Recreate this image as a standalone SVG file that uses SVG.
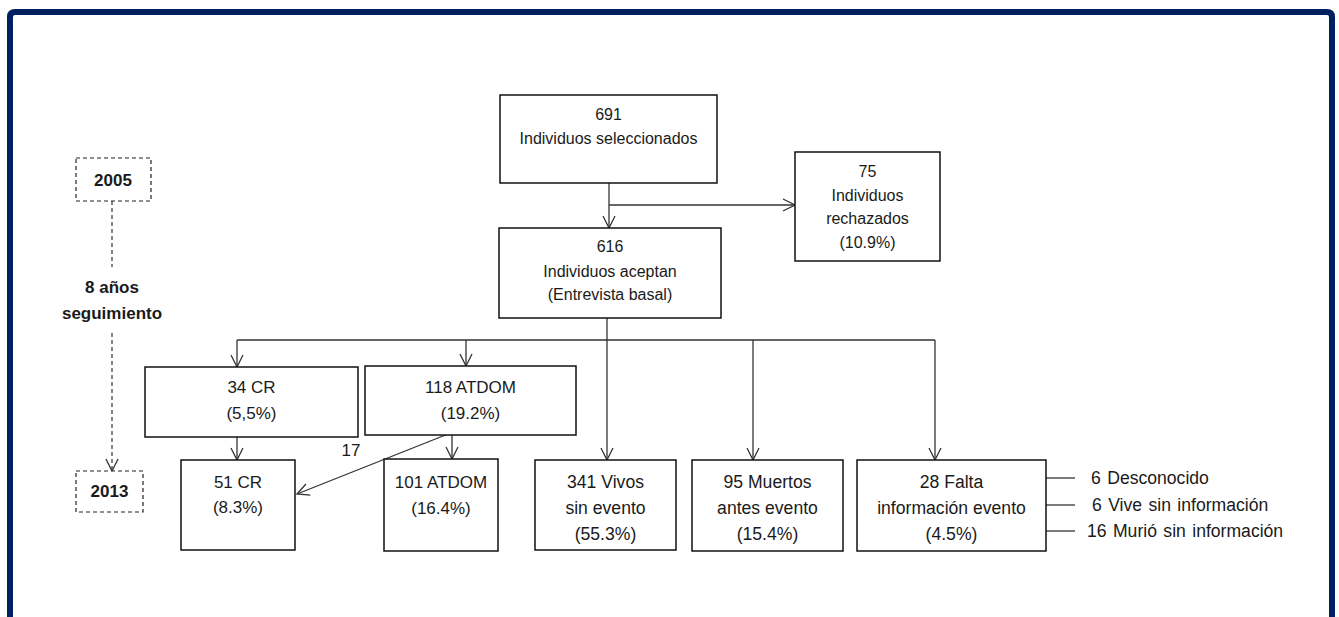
<svg xmlns="http://www.w3.org/2000/svg" width="1339" height="617" viewBox="0 0 1339 617">
<defs>
<style>
.box{fill:#fff;stroke:#111;stroke-width:1.5}
.dbox{fill:#fff;stroke:#222;stroke-width:1.2;stroke-dasharray:4 3}
.t{font-family:"Liberation Sans",Arial,sans-serif;font-size:16px;fill:#1a1a1a;text-anchor:middle}
.m{font-family:"Liberation Sans",Arial,sans-serif;font-size:17px;fill:#1a1a1a;text-anchor:middle}
.l{font-family:"Liberation Sans",Arial,sans-serif;font-size:17.6px;fill:#1a1a1a;text-anchor:middle}
.b{font-family:"Liberation Sans",Arial,sans-serif;font-size:17px;font-weight:bold;fill:#1a1a1a;text-anchor:middle}
.s{font-family:"Liberation Sans",Arial,sans-serif;font-size:17.6px;fill:#1a1a1a;word-spacing:1.5px}
.c{fill:none;stroke:#333;stroke-width:1.3}
.d{fill:none;stroke:#333;stroke-width:1.2;stroke-dasharray:4 3}
</style>
<marker id="arr" viewBox="0 0 14 14" refX="13" refY="7" markerWidth="14" markerHeight="14" markerUnits="userSpaceOnUse" orient="auto">
<path d="M1,1 L13,7 L1,13" fill="none" stroke="#333" stroke-width="1.3"/>
</marker>
</defs>
<rect width="1339" height="617" fill="#fff"/>
<path d="M10,617 V17 Q10,12 15,12 H1327 Q1332,12 1332,17 V617" fill="none" stroke="#002060" stroke-width="6"/>

<g id="connectors">
<line class="c" x1="609" y1="183" x2="609" y2="228" marker-end="url(#arr)"/>
<line class="c" x1="609" y1="205" x2="795" y2="205" marker-end="url(#arr)"/>
<line class="c" x1="607" y1="318" x2="607" y2="460" marker-end="url(#arr)"/>
<line class="c" x1="237" y1="340" x2="935" y2="340"/>
<line class="c" x1="237" y1="340" x2="237" y2="367" marker-end="url(#arr)"/>
<line class="c" x1="466" y1="340" x2="466" y2="366" marker-end="url(#arr)"/>
<line class="c" x1="753" y1="340" x2="753" y2="460" marker-end="url(#arr)"/>
<line class="c" x1="935" y1="340" x2="935" y2="460" marker-end="url(#arr)"/>
<line class="c" x1="237" y1="437" x2="237" y2="460" marker-end="url(#arr)"/>
<line class="c" x1="452" y1="435" x2="452" y2="459" marker-end="url(#arr)"/>
<line class="c" x1="448" y1="434" x2="297" y2="494" marker-end="url(#arr)"/>
<line class="c" x1="1046" y1="478" x2="1075" y2="478"/>
<line class="c" x1="1046" y1="505" x2="1075" y2="505"/>
<line class="c" x1="1046" y1="531" x2="1075" y2="531"/>
<line class="d" x1="112" y1="201" x2="112" y2="267"/>
<line class="d" x1="112" y1="333" x2="112" y2="471" marker-end="url(#arr)"/>
</g>

<g id="y2005">
<rect class="dbox" x="76" y="158" width="75" height="43"/>
<text class="b" x="113" y="186">2005</text>
</g>
<g id="seguimiento">
<text class="b" x="112" y="293">8 años</text>
<text class="b" x="112" y="319">seguimiento</text>
</g>
<g id="y2013">
<rect class="dbox" x="76" y="471" width="67" height="41"/>
<text class="b" x="109.5" y="497">2013</text>
</g>

<g id="n691">
<rect class="box" x="500" y="95" width="217" height="88"/>
<text class="t" x="608.5" y="120">691</text>
<text class="t" x="608.5" y="144">Individuos seleccionados</text>
</g>
<g id="n75">
<rect class="box" x="795" y="152" width="145" height="109"/>
<text class="t" x="867.5" y="177">75</text>
<text class="t" x="867.5" y="201">Individuos</text>
<text class="t" x="867.5" y="224">rechazados</text>
<text class="t" x="867.5" y="248">(10.9%)</text>
</g>
<g id="n616">
<rect class="box" x="499" y="228" width="222" height="90"/>
<text class="t" x="610" y="252">616</text>
<text class="t" x="610" y="277">Individuos aceptan</text>
<text class="t" x="610" y="300">(Entrevista basal)</text>
</g>
<g id="n34cr">
<rect class="box" x="145" y="367" width="213" height="70"/>
<text class="m" x="251.5" y="393">34 CR</text>
<text class="m" x="251.5" y="419">(5,5%)</text>
</g>
<g id="n118">
<rect class="box" x="365" y="366" width="211" height="69"/>
<text class="m" x="470.5" y="393">118 ATDOM</text>
<text class="m" x="470.5" y="419">(19.2%)</text>
</g>
<g id="l17">
<text class="m" x="351" y="456">17</text>
</g>
<g id="n51cr">
<rect class="box" x="181" y="460" width="114" height="90"/>
<text class="m" x="238" y="488">51 CR</text>
<text class="m" x="238" y="513">(8.3%)</text>
</g>
<g id="n101">
<rect class="box" x="384" y="459" width="114" height="92"/>
<text class="m" x="441" y="488">101 ATDOM</text>
<text class="m" x="441" y="514">(16.4%)</text>
</g>
<g id="n341">
<rect class="box" x="535" y="460" width="141" height="90"/>
<text class="l" x="605.5" y="488">341 Vivos</text>
<text class="l" x="605.5" y="514">sin evento</text>
<text class="l" x="605.5" y="540">(55.3%)</text>
</g>
<g id="n95">
<rect class="box" x="692" y="460" width="151" height="91"/>
<text class="l" x="767.5" y="488">95 Muertos</text>
<text class="l" x="767.5" y="514">antes evento</text>
<text class="l" x="767.5" y="540">(15.4%)</text>
</g>
<g id="n28">
<rect class="box" x="857" y="460" width="189" height="91"/>
<text class="l" x="951.5" y="488">28 Falta</text>
<text class="l" x="951.5" y="514">información evento</text>
<text class="l" x="951.5" y="540">(4.5%)</text>
</g>
<g id="sub">
<text class="s" x="1091" y="484">6 Desconocido</text>
<text class="s" x="1092" y="511">6 Vive sin información</text>
<text class="s" x="1087" y="537">16 Murió sin información</text>
</g>
</svg>
